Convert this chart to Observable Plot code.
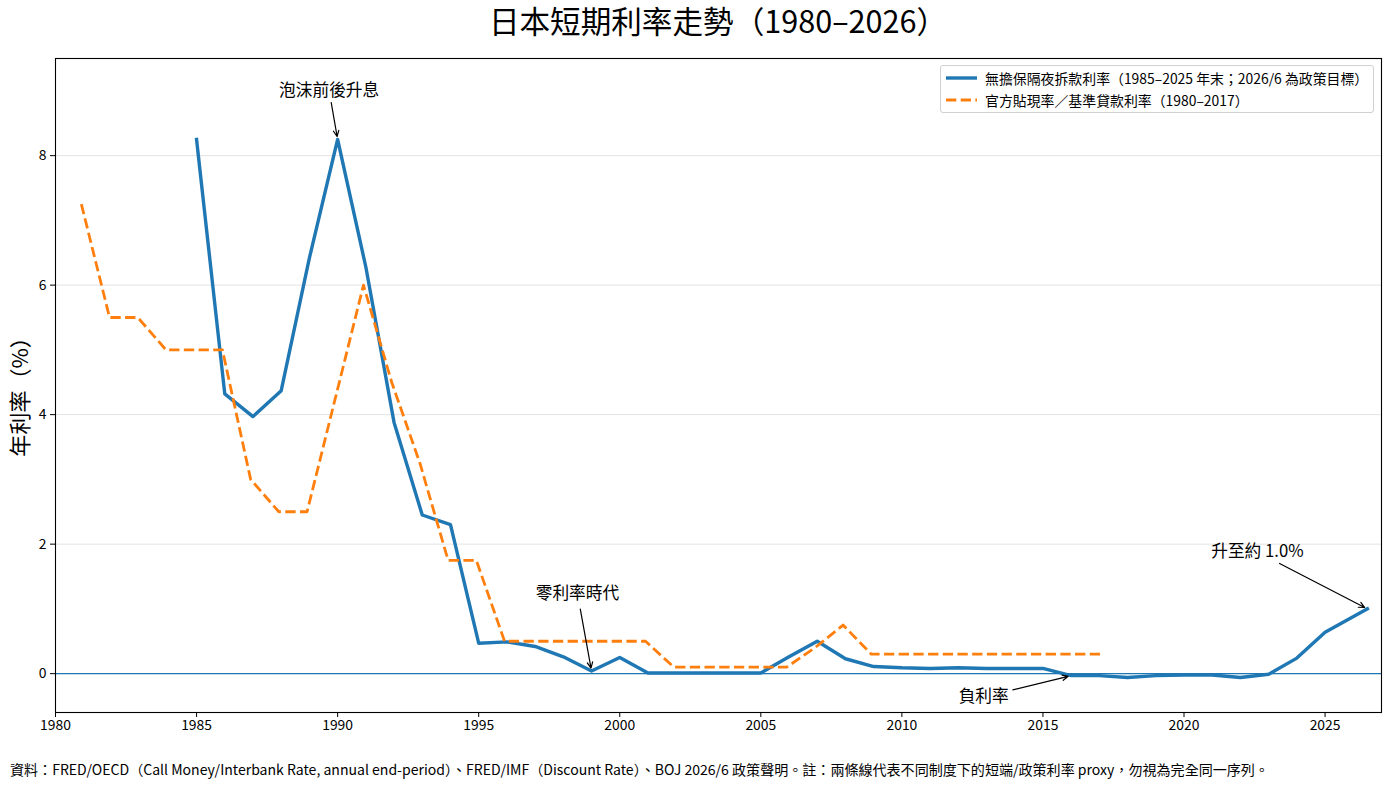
<!DOCTYPE html>
<html>
<head>
<meta charset="utf-8">
<script src="https://cdn.jsdelivr.net/npm/d3@7"></script>
<script src="https://cdn.jsdelivr.net/npm/@observablehq/plot@0.6"></script>
<style>
  html, body { margin: 0; padding: 0; background: #fff; }
  body {
    width: 1391px; height: 787px; position: relative; overflow: hidden;
    font-family: "Noto Sans CJK TC", "Noto Sans CJK SC", "Noto Sans", sans-serif;
    color: #000;
  }
  #title {
    margin-left: 55px; width: 1326px; height: 50px; line-height: 41px;
    text-align: center; font-size: 30.6px; white-space: nowrap;
  }
  #chart svg { display: block; }
  #note {
    height: 29px; line-height: 22.5px; padding-left: 10px;
    font-size: 14.05px; white-space: nowrap;
  }
  #legend {
    position: absolute; left: 940px; top: 65px; width: 432px; height: 46px;
    border: 1px solid #d0d0d0; border-radius: 3px; background: rgba(255,255,255,0.85);
    font-size: 13.9px;
  }
  #legend .row { position: absolute; left: 0; height: 22px; line-height: 22px; white-space: nowrap; }
  #legend svg { position: absolute; left: 4px; top: 0; }
  #legend span { position: absolute; left: 44px; top: 0; }
</style>
</head>
<body>
<div id="title"></div>
<div id="chart"></div>
<div id="note"></div>
<div id="legend"></div>
<script>
// Uncollateralized overnight call rate, year-end (1985–2025), plus June 2026 policy target
const callYears = [1985, 1986, 1987, 1988, 1989, 1990, 1991, 1992, 1993, 1994,
                   1995, 1996, 1997, 1998, 1999, 2000, 2001, 2002, 2003, 2004,
                   2005, 2006, 2007, 2008, 2009, 2010, 2011, 2012, 2013, 2014,
                   2015, 2016, 2017, 2018, 2019, 2020, 2021, 2022, 2023, 2024,
                   2025, 2026.5];
const callRate = [8.25, 4.32, 3.97, 4.37, 6.42, 8.25, 6.28, 3.88, 2.45, 2.30,
                  0.47, 0.49, 0.42, 0.26, 0.04, 0.25, 0.01, 0.01, 0.01, 0.01,
                  0.01, 0.26, 0.50, 0.23, 0.11, 0.09, 0.08, 0.09, 0.08, 0.08,
                  0.08, -0.03, -0.03, -0.06, -0.03, -0.02, -0.02, -0.06, -0.01, 0.24,
                  0.64, 1.00];

// Official discount rate / basic loan rate, dated by observation month (1980–2017)
const discountYears = [1980, 1981, 1982, 1983, 1984, 1985, 1986, 1987, 1988, 1989,
                       1990, 1991, 1992, 1993, 1994, 1995, 1996, 1997, 1998, 1999,
                       2000, 2001, 2002, 2003, 2004, 2005, 2006, 2007, 2008, 2009,
                       2010, 2011, 2012, 2013, 2014, 2015, 2016, 2017];
const discountMonths = [12, 12, 12, 12, 12, 12, 12, 12, 12, 12,
                        12, 12, 12, 12, 12, 12, 12, 12, 12, 12,
                        12, 12, 12, 12, 12, 12, 12, 12, 12, 12,
                        12, 12, 12, 12, 12, 12, 12, 2];
const discountRate = [7.25, 5.5, 5.5, 5.0, 5.0, 5.0, 3.0, 2.5, 2.5, 4.25,
                      6.0, 4.5, 3.25, 1.75, 1.75, 0.5, 0.5, 0.5, 0.5, 0.5,
                      0.5, 0.1, 0.1, 0.1, 0.1, 0.1, 0.4, 0.75, 0.3, 0.3,
                      0.3, 0.3, 0.3, 0.3, 0.3, 0.3, 0.3, 0.3];

const xTicks = [1980, 1985, 1990, 1995, 2000, 2005, 2010, 2015, 2020, 2025];
const yTicks = [0, 2, 4, 6, 8];

const seriesNames = [
  "無擔保隔夜拆款利率（1985–2025 年末；2026/6 為政策目標）",
  "官方貼現率／基準貸款利率（1980–2017）"
];
const seriesColors = ["#1f77b4", "#ff7f0e"];

// Callouts: label position (data units) and the point it refers to
const callouts = [
  { label: "泡沫前後升息", tx: 1989.7, ty: 9.0, year: 1990, inset: 12 },
  { label: "零利率時代", tx: 1998.5, ty: 1.24, year: 1999, inset: 16 },
  { label: "負利率", tx: 2012.9, ty: -0.36, year: 2016, inset: 30 },
  { label: "升至約 1.0%", tx: 2022.6, ty: 1.88, year: 2026.5, inset: 25 }
];

const titleText = "日本短期利率走勢（1980–2026）";
const yLabel = "年利率（%）";
const noteText = "資料：FRED/OECD（Call Money/Interbank Rate, annual end-period）、FRED/IMF（Discount Rate）、BOJ 2026/6 政策聲明。註：兩條線代表不同制度下的短端/政策利率 proxy，勿視為完全同一序列。";

const callData = callYears.map((x, i) => ({ x, y: callRate[i] }));
// month → fractional year (start of month)
const discountData = discountYears.map((yr, i) => ({
  x: yr + (discountMonths[i] - 1) / 12, y: discountRate[i]
}));
const calloutData = callouts.map(c => ({
  ...c, px: c.year, py: callRate[callYears.indexOf(c.year)]
}));

const fontFamily = '"Noto Sans CJK TC", "Noto Sans CJK SC", sans-serif';
const dashPattern = "10.3,4.4";

const arrowMarks = calloutData.map(c => Plot.arrow([c], {
  x1: "tx", y1: "ty", x2: "px", y2: "py",
  stroke: "#000", strokeWidth: 1.2,
  insetStart: c.inset, insetEnd: 3,
  headLength: 8, headAngle: 50
}));

const chart = Plot.plot({
  width: 1391,
  height: 708,
  marginTop: 8,
  marginBottom: 46,
  marginLeft: 55,
  marginRight: 10,
  style: { fontFamily, fontSize: "13.9px", color: "#000", background: "#fff" },
  x: { domain: [1980, 2027], ticks: xTicks, tickFormat: d => String(d), tickSize: 5, tickPadding: 3, label: null },
  y: { domain: [-0.6, 9.5], ticks: yTicks, tickFormat: d => String(d), tickSize: 5, tickPadding: 4, label: null },
  marks: [
    Plot.gridY(yTicks, { stroke: "#e3e3e3", strokeOpacity: 1, strokeWidth: 1 }),
    Plot.ruleY([0], { stroke: "#1f77b4", strokeWidth: 1.3 }),
    Plot.line(callData, {
      x: "x", y: "y", stroke: seriesColors[0], strokeWidth: 3.4,
      strokeLinecap: "square", strokeLinejoin: "round"
    }),
    Plot.line(discountData, {
      x: "x", y: "y", stroke: seriesColors[1], strokeWidth: 2.8,
      strokeDasharray: dashPattern, strokeLinecap: "butt", strokeLinejoin: "round"
    }),
    Plot.frame({ stroke: "#000", strokeWidth: 1.1 }),
    ...arrowMarks,
    Plot.text(calloutData, { x: "tx", y: "ty", text: "label", fontSize: 16.7, fill: "#000" }),
    Plot.text([yLabel], {
      text: d => d, frameAnchor: "left", textAnchor: "middle", rotate: -90, dx: -35, dy: 6,
      fontSize: 22, fill: "#000"
    })
  ]
});

document.getElementById("title").textContent = titleText;
document.getElementById("chart").appendChild(chart);
document.getElementById("note").textContent = noteText;

// Legend box in the upper right of the plot area
const legend = document.getElementById("legend");
seriesNames.forEach((name, i) => {
  const row = document.createElement("div");
  row.className = "row";
  row.style.top = (1 + i * 22) + "px";
  row.style.width = "100%";
  const dash = i === 1 ? ` stroke-dasharray="${dashPattern}"` : "";
  row.innerHTML =
    `<svg width="34" height="22"><line x1="1" x2="32" y1="11" y2="11" stroke="${seriesColors[i]}" stroke-width="${i === 0 ? 3.4 : 2.8}"${dash}/></svg>` +
    `<span>${name}</span>`;
  legend.appendChild(row);
});
</script>
</body>
</html>
